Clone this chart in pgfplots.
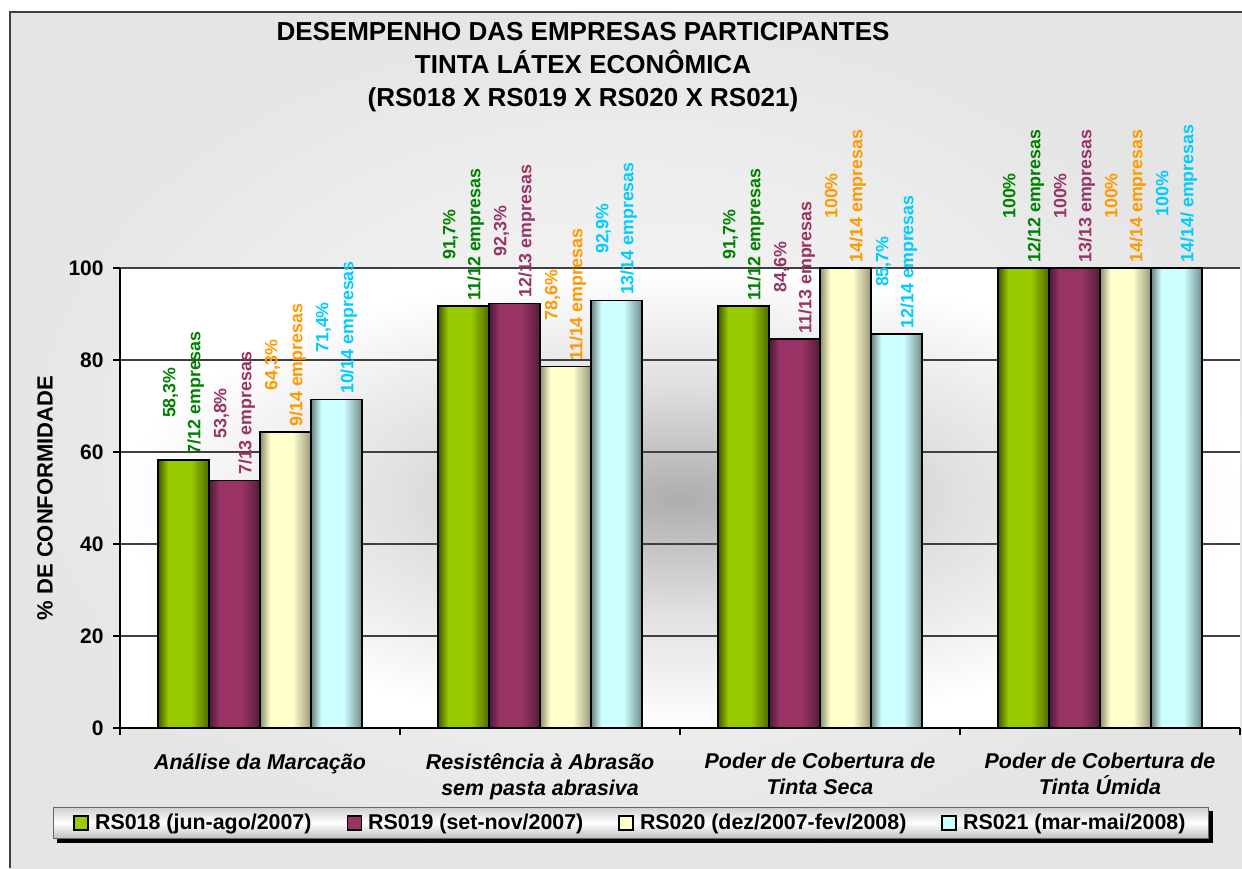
\documentclass[border=0pt]{standalone}
\usepackage{pgfplots}
\pgfplotsset{compat=1.18}
\usepackage{fontspec}
\setmainfont{Liberation Sans}
\pgfdeclarelayer{background}
\pgfsetlayers{background,main}
\definecolor{c1}{HTML}{99CC00}
\definecolor{c2}{HTML}{993366}
\definecolor{c3}{HTML}{FFFFCC}
\definecolor{c4}{HTML}{CCFFFF}
\colorlet{c1d}{c1!42!black}
\colorlet{c1e}{c1!52!black}
\colorlet{c2d}{c2!48!black}
\colorlet{c2e}{c2!55!black}
\colorlet{c3d}{c3!55!black}
\colorlet{c3e}{c3!60!black}
\colorlet{c4d}{c4!50!black}
\colorlet{c4e}{c4!55!black}
\definecolor{l1}{HTML}{008000}
\definecolor{l2}{HTML}{993366}
\definecolor{l3}{HTML}{FF9900}
\definecolor{l4}{HTML}{00CCFF}
\colorlet{pbg0}{black!32}
\colorlet{pbg1}{black!12}
\colorlet{cbg0}{black!2}
\colorlet{cbg1}{black!10}
\pgfdeclarehorizontalshading{sh1}{100bp}{color(0bp)=(c1d); color(25bp)=(c1d); color(35bp)=(c1); color(57bp)=(c1); color(75bp)=(c1e); color(100bp)=(c1e)}
\pgfdeclarehorizontalshading{sh2}{100bp}{color(0bp)=(c2d); color(25bp)=(c2d); color(35bp)=(c2); color(57bp)=(c2); color(75bp)=(c2e); color(100bp)=(c2e)}
\pgfdeclarehorizontalshading{sh3}{100bp}{color(0bp)=(c3d); color(25bp)=(c3d); color(35bp)=(c3); color(57bp)=(c3); color(75bp)=(c3e); color(100bp)=(c3e)}
\pgfdeclarehorizontalshading{sh4}{100bp}{color(0bp)=(c4d); color(25bp)=(c4d); color(35bp)=(c4); color(57bp)=(c4); color(75bp)=(c4e); color(100bp)=(c4e)}
\pgfdeclareradialshading{plotbg}{\pgfpoint{0bp}{0bp}}{color(0bp)=(pbg0); color(12.5bp)=(pbg1); color(25bp)=(white); color(50bp)=(white)}
\pgfdeclareradialshading{chartbg}{\pgfpoint{0bp}{0bp}}{color(0bp)=(cbg0); color(25bp)=(cbg1); color(50bp)=(cbg1)}
\pgfplotsset{
  legsq/.style={legend image code/.code={\draw[##1, draw=black, line width=0.8pt] (0pt,-3.5pt) rectangle (7pt,3.5pt);}},
  bb/.style={ybar, bar width=25.5pt, draw=black, line width=0.75pt, shade, forget plot},
  lbl/.style 2 args={every node near coord/.append style={text=#1, xshift=#2, rotate=90, anchor=west}},
  b1/.style={bb, bar shift=-38.25pt, shading=sh1, lbl={l1}{-38.25pt}},
  b2/.style={bb, bar shift=-12.75pt, shading=sh2, lbl={l2}{-12.75pt}},
  b3/.style={bb, bar shift=12.75pt, shading=sh3, lbl={l3}{12.75pt}},
  b4/.style={bb, bar shift=38.25pt, shading=sh4, lbl={l4}{38.25pt}},
}
\begin{document}
\begin{tikzpicture}[x=1pt,y=1pt]
\useasboundingbox (0,0) rectangle (621,434);
\begin{pgfonlayer}{background}
\fill[white] (0,0) rectangle (621,434);
\shade[shading=chartbg] (5,0) rectangle (621,428);
\draw[black!75, line width=1pt] (5,0) -- (5,428) -- (621,428);
\end{pgfonlayer}
\node[anchor=north, align=center, inner sep=0pt, font=\fontsize{13}{16.5}\selectfont\bfseries] at (291.5,423) {DESEMPENHO DAS EMPRESAS PARTICIPANTES\\TINTA LÁTEX ECONÔMICA\\(RS018 X RS019 X RS020 X RS021)};
\begin{axis}[
  at={(60pt,70pt)}, anchor=south west,
  scale only axis, width=560pt, height=230pt,
  xmin=-0.5, xmax=3.5, ymin=0, ymax=100,
  axis lines*=left,
  axis line style={black, line width=0.6pt},
  clip=false,
  axis background/.style={shade, shading=plotbg},
  ytick={0,20,40,60,80,100},
  ymajorgrids,
  major grid style={black!75, line width=0.6pt},
  tick align=outside,
  major tick length=3.5pt, minor tick length=3.5pt,
  tick style={black, line width=0.6pt},
  xtick={0,1,2,3},
  major x tick style={draw=none},
  minor xtick={-0.5,0.5,1.5,2.5,3.5},
  xticklabels={Análise da Marcação,{Resistência à Abrasão\\sem pasta abrasiva},{Poder de Cobertura de\\Tinta Seca},{Poder de Cobertura de\\Tinta Úmida}},
  xticklabel style={font=\fontsize{10.7}{13}\selectfont\bfseries\itshape, align=center, anchor=north, inner sep=0pt, yshift=-9pt},
  /pgf/number format/assume math mode=true,
  yticklabel style={font=\fontsize{10.5}{12}\selectfont\bfseries, anchor=east, inner sep=0pt, xshift=-4.5pt},
  ylabel={\% DE CONFORMIDADE},
  every axis y label/.style={at={(axis description cs:-0.067,0.5)}, rotate=90, anchor=center, font=\fontsize{11}{13}\selectfont\bfseries},
  every node near coord/.append style={align=center, inner sep=0pt, inner xsep=2.5pt, font=\fontsize{8.9}{12.5}\selectfont\bfseries},
  legend columns=4,
  legend cell align=left,
  legend style={at={(0.45625,-0.2065)}, anchor=center, draw=black!60, line width=0.6pt,
    top color=black!18, bottom color=black!25, middle color=white, name=leg,
    font=\fontsize{10.7}{13}\selectfont\bfseries, inner xsep=10pt, inner ysep=1.5pt,
    nodes={inner sep=1.5pt},
    /tikz/every odd column/.append style={column sep=1.5pt},
    /tikz/every even column/.append style={column sep=16pt}},
]
% Group 0: Analise da Marcacao
\addplot[b1, nodes near coords={58,3\%\\7/12 empresas}] coordinates {(0,58.3)};
\addplot[b2, nodes near coords={53,8\%\\7/13 empresas}] coordinates {(0,53.8)};
\addplot[b3, nodes near coords={64,3\%\\9/14 empresas}] coordinates {(0,64.3)};
\addplot[b4, nodes near coords={71,4\%\\10/14 empresas}] coordinates {(0,71.4)};
% Group 1: Resistencia a Abrasao
\addplot[b1, nodes near coords={91,7\%\\11/12 empresas}] coordinates {(1,91.7)};
\addplot[b2, nodes near coords={92,3\%\\12/13 empresas}] coordinates {(1,92.3)};
\addplot[b3, nodes near coords={78,6\%\\11/14 empresas}] coordinates {(1,78.6)};
\addplot[b4, nodes near coords={92,9\%\\13/14 empresas}] coordinates {(1,92.9)};
% Group 2: Tinta Seca
\addplot[b1, nodes near coords={91,7\%\\11/12 empresas}] coordinates {(2,91.7)};
\addplot[b2, nodes near coords={84,6\%\\11/13 empresas}] coordinates {(2,84.6)};
\addplot[b3, nodes near coords={100\%\\14/14 empresas}] coordinates {(2,100)};
\addplot[b4, nodes near coords={85,7\%\\12/14 empresas}] coordinates {(2,85.7)};
% Group 3: Tinta Umida
\addplot[b1, nodes near coords={100\%\\12/12 empresas}] coordinates {(3,100)};
\addplot[b2, nodes near coords={100\%\\13/13 empresas}] coordinates {(3,100)};
\addplot[b3, nodes near coords={100\%\\14/14 empresas}] coordinates {(3,100)};
\addplot[b4, nodes near coords={100\%\\14/14/ empresas}] coordinates {(3,100)};
\addlegendimage{legsq, fill=c1}
\addlegendentry{RS018 (jun-ago/2007)}
\addlegendimage{legsq, fill=c2}
\addlegendentry{RS019 (set-nov/2007)}
\addlegendimage{legsq, fill=c3}
\addlegendentry{RS020 (dez/2007-fev/2008)}
\addlegendimage{legsq, fill=c4}
\addlegendentry{RS021 (mar-mai/2008)}
\end{axis}
\begin{pgfonlayer}{background}
\fill[black] ([shift={(2pt,-2pt)}]leg.south west) rectangle ([shift={(2pt,-2pt)}]leg.north east);
\end{pgfonlayer}
\end{tikzpicture}
\end{document}
